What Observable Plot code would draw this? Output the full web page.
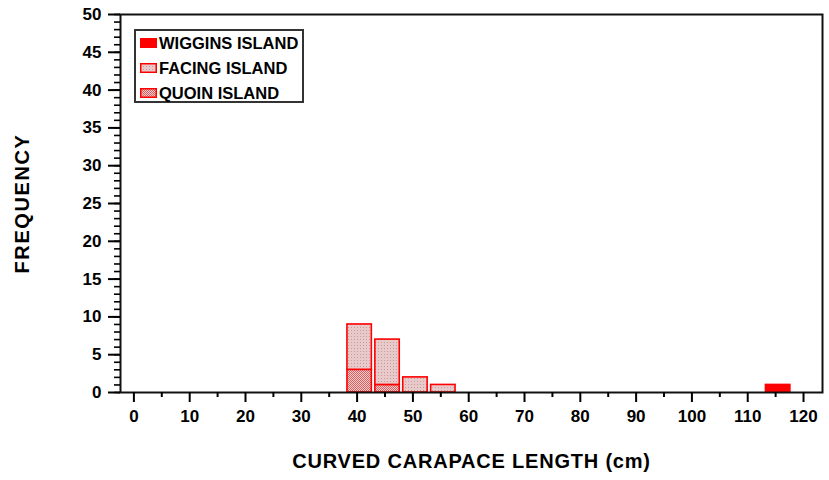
<!DOCTYPE html>
<html>
<head>
<meta charset="utf-8">
<script src="https://cdn.jsdelivr.net/npm/d3@7"></script>
<script src="https://cdn.jsdelivr.net/npm/@observablehq/plot@0.6"></script>
<style>
  body { margin: 0; background: #fff; }
  #wrap { position: relative; width: 829px; height: 480px; font-family: "Liberation Sans", Arial, sans-serif; }
  #legend { position: absolute; left: 134px; top: 29px; width: 166px; height: 70px; border: 2px solid #333; background: #fff; }
  .row { position: absolute; left: 4px; height: 20px; display: flex; align-items: center; font: bold 16.5px "Liberation Sans", Arial, sans-serif; color: #000; white-space: nowrap; }
  .row svg { margin-right: 2px; }
  g[aria-label="y-axis label"] text { letter-spacing: 1.6px; }
  g[aria-label="x-axis label"] text { letter-spacing: 0.8px; }
</style>
</head>
<body>
<svg width="0" height="0" style="position:absolute">
  <defs>
    <pattern id="facingPat" width="3" height="3" patternUnits="userSpaceOnUse">
      <rect width="3" height="3" fill="#e9caca"></rect>
      <rect width="1" height="1" fill="#c99a9a"></rect>
    </pattern>
    <pattern id="quoinPat" width="2" height="2" patternUnits="userSpaceOnUse">
      <rect width="2" height="2" fill="#f1cccc"></rect>
      <rect width="1" height="1" fill="#d96060"></rect>
      <rect x="1" y="1" width="1" height="1" fill="#d96060"></rect>
    </pattern>
  </defs>
</svg>
<div id="wrap"></div>
<script>
// ---- data ----
const binStarts = [38, 43, 48, 53, 113];      // cm, start of each 5 cm bin
const binWidth = 5;
const quoin   = [3, 1, 0, 0, 0];
const facing  = [6, 6, 2, 1, 0];
const wiggins = [0, 0, 0, 0, 1];
const seriesNames = ["WIGGINS ISLAND", "FACING ISLAND", "QUOIN ISLAND"];
const seriesFills = ["#ff0000", "url(#facingPat)", "url(#quoinPat)"];
const xTicks = [0, 10, 20, 30, 40, 50, 60, 70, 80, 90, 100, 110, 120];
const xMinorTicks = [5, 15, 25, 35, 45, 55, 65, 75, 85, 95, 105, 115];
const yTicks = [0, 5, 10, 15, 20, 25, 30, 35, 40, 45, 50];
const yMinorTicks = d3.range(0, 51, 1);
const xTitle = "CURVED CARAPACE LENGTH (cm)";
const yTitle = "FREQUENCY";

// stacking order: Quoin at the bottom, then Facing, then Wiggins
const rows = [];
[[quoin, seriesNames[2]], [facing, seriesNames[1]], [wiggins, seriesNames[0]]].forEach(([vals, name]) => {
  vals.forEach((v, i) => {
    if (v > 0) rows.push({start: binStarts[i], end: binStarts[i] + binWidth, count: v, series: name});
  });
});

const chart = Plot.plot({
  width: 829,
  height: 480,
  marginLeft: 120,
  marginRight: 7,
  marginTop: 14,
  marginBottom: 88,
  style: {font: "bold 17px 'Liberation Sans', Arial, sans-serif", color: "#000", background: "#fff"},
  x: {domain: [-2.4, 123.4]},
  y: {domain: [0, 50]},
  color: {domain: seriesNames, range: seriesFills},
  marks: [
    Plot.rectY(rows, {x1: "start", x2: "end", y: "count", fill: "series", stroke: "#ff0000", strokeWidth: 1.6, insetLeft: 1.5, insetRight: 2}),
    Plot.frame({stroke: "#111", strokeWidth: 2}),
    Plot.axisY({ticks: yMinorTicks, tickSize: 6, text: null, strokeWidth: 1.6, label: null}),
    Plot.axisY({ticks: yTicks, tickSize: 12, tickPadding: 7, strokeWidth: 2, label: null, fontSize: 17, tickFormat: d => String(d)}),
    Plot.axisY({ticks: [], label: yTitle, labelAnchor: "center", labelOffset: 106, labelArrow: "none", fontSize: 20}),
    Plot.axisX({ticks: xMinorTicks, tickSize: 5, text: null, strokeWidth: 2, label: null}),
    Plot.axisX({ticks: xTicks, tickSize: 10, tickPadding: 7, strokeWidth: 2, label: null, fontSize: 17, tickFormat: d => String(d)}),
    Plot.axisX({ticks: [], label: xTitle, labelAnchor: "center", labelOffset: 75, labelArrow: "none", fontSize: 20})
  ]
});

const wrap = document.getElementById("wrap");
wrap.appendChild(chart);

// legend overlay (inside the plot frame, top-left)
const legend = document.createElement("div");
legend.id = "legend";
seriesNames.forEach((name, i) => {
  const row = document.createElement("div");
  row.className = "row";
  row.style.top = (i * 25 + 2) + "px";
  row.innerHTML = `<svg width="17" height="10"><rect x="0.75" y="0.75" width="15.5" height="8.5" fill="${seriesFills[i]}" stroke="#ff0000" stroke-width="1.5"></rect></svg><span>${name}</span>`;
  legend.appendChild(row);
});
wrap.appendChild(legend);
</script>
</body>
</html>
